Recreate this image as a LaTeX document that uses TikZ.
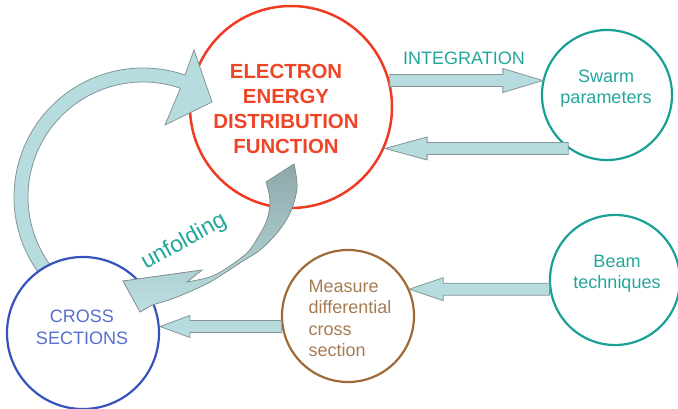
\documentclass[tikz,border=0pt]{standalone}
\usepackage{fontspec}
\setmainfont{Liberation Sans}
\usetikzlibrary{calc}
\definecolor{cred}{HTML}{EE3B24}
\definecolor{credt}{HTML}{EE4527}
\definecolor{cteal}{HTML}{18A096}
\definecolor{ctealt}{HTML}{22A69C}
\definecolor{cblue}{HTML}{3552BD}
\definecolor{cbluet}{HTML}{5570CF}
\definecolor{cbrown}{HTML}{9E6B36}
\definecolor{cbrownt}{HTML}{A57B52}
\definecolor{afill}{HTML}{B6DCDF}
\definecolor{aline}{HTML}{859596}
\definecolor{udark}{HTML}{8EA8AA}
\definecolor{umid}{HTML}{97B3B5}
\definecolor{ulight}{HTML}{BDE0E2}
\tikzset{
  circ/.style={circle, inner sep=0pt, line width=2.2pt},
  barr/.style={fill=afill, draw=aline, line width=0.8pt, line join=miter},
  lbl/.style={font=\fontsize{18}{21.5}\selectfont, inner sep=0pt},
}
\newcommand\blockarr[4]{%
  \filldraw[barr] let \p1=(#1), \p2=(#2), \n1={sign(\x2-\x1)}, \n2={\x2-\n1*#3} in
    ({\x1},{\y1+6pt}) -- ({\n2},{\y1+6pt}) -- ({\n2},{\y1+#4})
    -- ({\x2},{\y1}) -- ({\n2},{\y1-#4}) -- ({\n2},{\y1-6pt})
    -- ({\x1},{\y1-6pt}) -- cycle;}
\begin{document}
\begin{tikzpicture}[x=1pt,y=-1pt]
\useasboundingbox (0,0) rectangle (678,409);
% circles
\node[circ, draw=cred, line width=2.5pt, minimum size=202pt] (eedf) at (291,107) {};
\node[circ, draw=cteal, minimum size=130pt] (swarm) at (607,95) {};
\node[circ, draw=cteal, minimum size=130pt] (beam) at (615,280) {};
\node[circ, draw=cbrown, minimum size=132pt] (meas) at (348,316) {};
% loop arrow (cross sections -> EEDF)
\coordinate (lc) at (143,197);
\filldraw[barr] ($(lc)+(140:129)$) arc[start angle=140,end angle=289,radius=129]
  -- (194,50) -- (212,102) -- (165,125) -- ($(lc)+(289:115)$)
  arc[start angle=289,end angle=140,radius=115] -- cycle;
\node[circ, draw=cblue, fill=white, minimum size=152pt] (cross) at (83,333) {};
% unfolding arrow
\filldraw[draw=aline, line width=0.8pt, top color=udark, middle color=umid, bottom color=ulight]
  plot[smooth, tension=0.55] coordinates {(294,164) (297,188) (290,213) (277,233) (260,250) (243,261) (210,282) (177,297) (152,305)}
  -- (140,312) -- (123,281) -- (202,270) -- (187,282)
  -- plot[smooth, tension=0.55] coordinates {(187,282) (210,277) (227,268) (247,253) (257,239) (267,220) (270,200) (266,182)}
  -- cycle;
% straight block arrows
\blockarr{eedf.15.5}{swarm.166.7}{40pt}{12pt}
\blockarr{swarm.234}{eedf.-23.6}{42pt}{11.5pt}
\blockarr{beam.188}{meas.24.1}{34pt}{11.5pt}
\blockarr{meas.189.2}{cross.4.9}{30pt}{11pt}
% texts
\node[inner sep=0pt, font=\bfseries\fontsize{20.4}{24.7}\selectfont, text=credt, align=center] (eedft) at (286,109) {ELECTRON\\ENERGY\\DISTRIBUTION\\FUNCTION};
\node[lbl, text=ctealt] (intt) at (464,58) {INTEGRATION};
\node[lbl, text=ctealt, align=center] (swarmt) at (606,88.5) {Swarm\\parameters};
\node[lbl, text=ctealt, align=center] (beamt) at (617,273.5) {Beam\\techniques};
\node[lbl, text=cbrownt, align=left] (meast) at (350,318.6) {Measure\\differential\\cross\\section};
\node[lbl, text=cbluet, align=center] (crosst) at (82,327.5) {CROSS\\SECTIONS};
\node[inner sep=0pt, font=\fontsize{23}{26}\selectfont, text=ctealt, rotate=29] (unft) at (184,242) {unfolding};
\end{tikzpicture}
\end{document}
